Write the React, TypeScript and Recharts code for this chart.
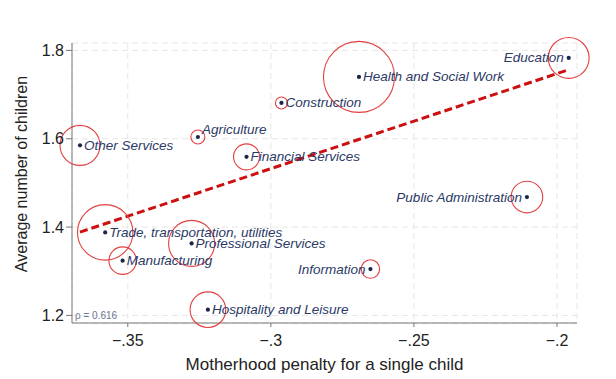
import React from "react";
import {
  ScatterChart,
  Scatter,
  XAxis,
  YAxis,
  ZAxis,
  CartesianGrid,
  ReferenceLine,
} from "recharts";

const industries = [
  "Education",
  "Health and Social Work",
  "Construction",
  "Agriculture",
  "Other Services",
  "Financial Services",
  "Public Administration",
  "Trade, transportation, utilities",
  "Professional Services",
  "Manufacturing",
  "Information",
  "Hospitality and Leisure",
];
const penalty = [
  -0.1959, -0.2692, -0.2963, -0.3255, -0.3667, -0.3085, -0.2105, -0.3579,
  -0.3277, -0.3518, -0.2652, -0.322,
];
const children = [
  1.783, 1.74, 1.681, 1.604, 1.585, 1.559, 1.468, 1.388, 1.363, 1.324, 1.305,
  1.213,
];
const weight = [416, 1260, 36, 49, 400, 169, 250, 767, 529, 188, 85, 317];

const fitStart = { x: -0.3667, y: 1.3887 };
const fitEnd = { x: -0.1959, y: 1.7563 };
const rho = "ρ = 0.616";

const xTicks = [-0.35, -0.3, -0.25, -0.2];
const yTicks = [1.2, 1.4, 1.6, 1.8];
const xTitle = "Motherhood penalty for a single child";
const yTitle = "Average number of children";

const leftLabelled = ["Education", "Public Administration", "Information"];
const raisedLabelled = ["Agriculture"];

const data = industries.map((name, i) => ({
  name,
  x: penalty[i],
  y: children[i],
  w: weight[i],
}));

const FONT = "'Liberation Sans', Arial, Helvetica, sans-serif";
const NAVY = "#2b3966";

const fmtX = (v: number) => {
  const s = Math.abs(v).toString().replace(/^0/, "");
  return (v < 0 ? "\u2212" : "") + s;
};
const fmtY = (v: number) => v.toFixed(1);

const Dot = (props: any) => {
  const { cx, cy } = props;
  if (cx == null || cy == null) return null;
  return <circle cx={cx} cy={cy} r={2.1} fill="#1c2647" />;
};

const NameLabel = (props: any) => {
  const { cx, cy, payload } = props;
  if (cx == null || cy == null) return null;
  const name = payload.name;
  const left = leftLabelled.includes(name);
  const raised = raisedLabelled.includes(name);
  return (
    <text
      x={left ? cx - 5 : cx + 4}
      y={raised ? cy - 7 : cy}
      textAnchor={left ? "end" : "start"}
      dominantBaseline="central"
      fontFamily={FONT}
      fontStyle="italic"
      fontSize={13.5}
      fill={NAVY}
    >
      {name}
    </text>
  );
};

const XTitle = (props: any) => {
  const vb = props.viewBox;
  return (
    <g>
      <text
        x={vb.x + vb.width / 2}
        y={vb.y + 47}
        textAnchor="middle"
        fontFamily={FONT}
        fontSize={17}
        fill="#222"
      >
        {xTitle}
      </text>
      <text
        x={vb.x + 3}
        y={vb.y - 4}
        fontFamily={FONT}
        fontSize={10}
        fill="#6a7894"
      >
        {rho}
      </text>
    </g>
  );
};

const YTitle = (props: any) => {
  const vb = props.viewBox;
  const cx = 21.5;
  const cy = vb.y + vb.height / 2 - 9;
  return (
    <text
      x={cx}
      y={cy}
      transform={`rotate(-90 ${cx} ${cy})`}
      textAnchor="middle"
      dominantBaseline="central"
      fontFamily={FONT}
      fontSize={16}
      fill="#222"
    >
      {yTitle}
    </text>
  );
};

export default function App() {
  return (
    <div style={{ position: "absolute", left: 0, top: 0, background: "#fff" }}>
      <ScatterChart
        width={616}
        height={379}
        margin={{ top: 43, right: 39, bottom: 0, left: 0 }}
      >
        <CartesianGrid stroke="#e6e6e6" strokeDasharray="6 4" />
        <XAxis
          type="number"
          dataKey="x"
          domain={[-0.3695, -0.193]}
          ticks={xTicks}
          tickFormatter={fmtX}
          height={56}
          tickSize={4}
          tickMargin={8}
          stroke="#777"
          tick={{ fill: "#222", fontSize: 16, fontFamily: FONT }}
          label={<XTitle />}
        />
        <YAxis
          type="number"
          dataKey="y"
          domain={[1.1828, 1.8168]}
          ticks={yTicks}
          tickFormatter={fmtY}
          width={72}
          tickSize={6}
          tickMargin={2}
          stroke="#777"
          tick={{ fill: "#222", fontSize: 16, fontFamily: FONT }}
          label={<YTitle />}
        />
        <ZAxis
          zAxisId="ring"
          type="number"
          dataKey="w"
          domain={[0, 1300]}
          range={[0, 1300 * Math.PI]}
        />
        <ZAxis zAxisId="pt" type="number" dataKey="w" range={[14, 14]} />
        <ReferenceLine
          segment={[fitStart, fitEnd]}
          stroke="#cc0f0f"
          strokeWidth={3}
          strokeDasharray="8 4"
          ifOverflow="visible"
        />
        <Scatter
          data={data}
          zAxisId="ring"
          shape="circle"
          fill="none"
          stroke="#e24040"
          strokeWidth={1.1}
          isAnimationActive={false}
        />
        <Scatter
          data={data}
          zAxisId="pt"
          shape={<Dot />}
          isAnimationActive={false}
        />
        <Scatter
          data={data}
          zAxisId="pt"
          shape={<NameLabel />}
          isAnimationActive={false}
        />
      </ScatterChart>
    </div>
  );
}
